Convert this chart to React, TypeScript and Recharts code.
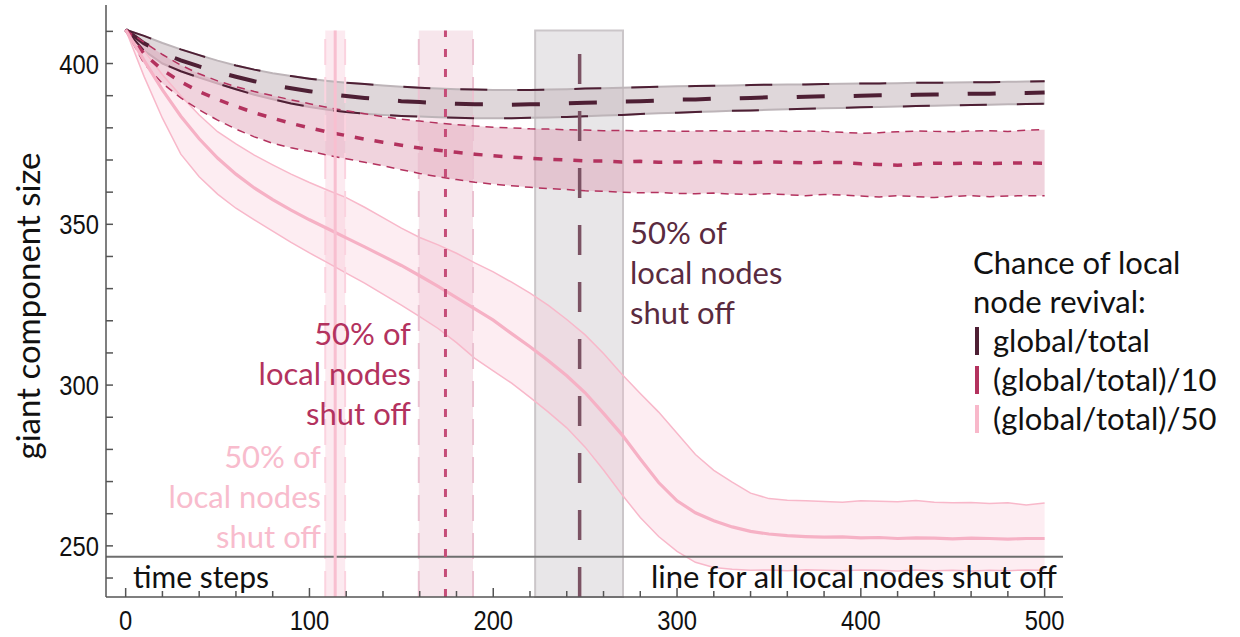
import { ComposedChart, Area, Line, XAxis, YAxis, ReferenceArea, ReferenceLine, Legend } from "recharts";

const steps = [0, 10, 20, 30, 40, 50, 60, 70, 80, 90, 100, 110, 120, 130, 140, 150, 160, 170, 180, 190, 200, 210, 220, 230, 240, 250, 260, 270, 280, 290, 300, 310, 320, 330, 340, 350, 360, 370, 380, 390, 400, 410, 420, 430, 440, 450, 460, 470, 480, 490, 500];

// revival chance = global/total
const globalMean = [410.5, 406.3, 403.2, 401.0, 399.1, 397.4, 395.9, 394.5, 393.3, 392.3, 391.4, 390.6, 389.9, 389.3, 388.8, 388.3, 388.0, 387.7, 387.5, 387.3, 387.3, 387.2, 387.3, 387.4, 387.6, 387.8, 387.9, 388.2, 388.3, 388.5, 388.8, 388.8, 389.1, 389.1, 389.3, 389.5, 389.4, 389.7, 389.8, 389.8, 390.0, 390.1, 390.1, 390.3, 390.4, 390.4, 390.6, 390.6, 390.8, 390.8, 391.0];
const globalHigh = [410.5, 408.6, 406.4, 404.4, 402.6, 400.9, 399.4, 398.1, 397.0, 396.1, 395.3, 394.6, 394.0, 393.6, 393.2, 392.8, 392.5, 392.2, 392.0, 391.9, 391.8, 391.8, 391.8, 391.9, 392.0, 392.2, 392.3, 392.5, 392.6, 392.8, 392.9, 393.0, 393.1, 393.2, 393.3, 393.4, 393.5, 393.5, 393.6, 393.7, 393.8, 393.8, 393.9, 394.0, 394.0, 394.1, 394.2, 394.2, 394.3, 394.4, 394.5];
const globalLow = [410.5, 404.0, 400.0, 397.6, 395.6, 393.8, 392.0, 390.3, 388.9, 387.6, 386.5, 385.6, 384.9, 384.4, 384.0, 383.7, 383.5, 383.3, 383.1, 383.0, 383.0, 383.0, 383.1, 383.2, 383.4, 383.6, 383.8, 384.0, 384.3, 384.5, 384.7, 384.9, 385.1, 385.3, 385.4, 385.6, 385.8, 385.9, 386.1, 386.2, 386.4, 386.5, 386.6, 386.8, 386.9, 387.0, 387.1, 387.2, 387.3, 387.4, 387.5];

// revival chance = (global/total)/10
const tenthMean = [410.5, 403.0, 398.0, 394.3, 391.3, 388.8, 386.7, 384.7, 383.0, 381.4, 380.0, 378.7, 377.6, 376.5, 375.5, 374.6, 373.7, 373.0, 372.4, 371.8, 371.3, 370.9, 370.5, 370.2, 370.0, 369.7, 369.7, 369.4, 369.6, 369.3, 369.4, 369.2, 369.5, 369.3, 369.2, 369.4, 369.3, 369.1, 369.3, 369.2, 368.8, 368.6, 368.4, 368.7, 369.0, 368.9, 369.1, 368.9, 369.0, 369.1, 369.0];
const tenthHigh = [410.5, 406.6, 402.8, 399.5, 396.8, 394.6, 392.8, 391.3, 390.0, 388.7, 387.5, 386.3, 385.3, 384.4, 383.5, 382.7, 382.1, 381.5, 381.0, 380.6, 380.2, 380.0, 379.7, 379.6, 379.4, 379.3, 379.1, 379.2, 379.0, 379.1, 378.9, 379.0, 379.1, 378.9, 379.0, 379.1, 378.9, 379.0, 378.9, 378.6, 378.3, 378.5, 378.8, 379.0, 378.9, 378.8, 379.0, 379.1, 378.9, 379.3, 379.4];
const tenthLow = [410.5, 400.0, 393.8, 389.3, 385.6, 382.4, 379.6, 377.2, 375.2, 373.8, 372.7, 371.5, 370.4, 369.3, 368.2, 367.0, 365.8, 364.8, 363.9, 363.1, 362.5, 362.0, 361.5, 361.1, 360.8, 360.4, 360.3, 360.0, 359.8, 359.9, 359.6, 359.5, 359.7, 359.4, 359.3, 359.5, 359.2, 358.9, 359.3, 359.1, 358.8, 358.5, 358.9, 358.6, 358.3, 358.7, 358.9, 358.6, 358.8, 358.9, 358.9];

// revival chance = (global/total)/50
const fiftiethMean = [410.5, 401.0, 391.8, 383.6, 376.6, 370.6, 365.6, 361.3, 357.7, 354.4, 351.4, 348.6, 345.8, 343.0, 340.1, 337.2, 334.0, 330.7, 327.2, 323.7, 320.2, 316.0, 311.9, 307.6, 302.9, 297.6, 291.2, 284.6, 277.0, 269.7, 264.0, 260.3, 257.8, 255.9, 254.5, 253.7, 253.2, 252.9, 252.7, 252.8, 252.5, 252.6, 252.3, 252.5, 252.4, 252.2, 252.4, 252.3, 252.1, 252.3, 252.3];
const fiftiethHigh = [410.5, 404.0, 396.5, 390.0, 384.0, 378.8, 375.0, 371.5, 368.5, 365.6, 363.0, 360.6, 358.3, 355.3, 352.1, 348.8, 345.9, 343.6, 341.0, 338.0, 335.2, 332.0, 328.6, 324.8, 320.4, 315.6, 309.8, 303.4, 297.4, 291.6, 285.0, 278.4, 273.5, 269.8, 266.4, 264.7, 264.2, 264.0, 263.8, 263.6, 264.0, 263.9, 263.7, 264.1, 263.6, 263.4, 263.5, 263.2, 263.4, 262.7, 263.3];
const fiftiethLow = [410.5, 396.0, 383.0, 371.8, 364.8, 359.4, 355.0, 351.4, 347.9, 344.4, 341.1, 338.0, 334.8, 331.7, 328.3, 324.9, 321.3, 317.6, 313.2, 308.3, 304.4, 300.6, 296.2, 291.6, 286.7, 280.7, 273.6, 266.0, 258.8, 252.9, 248.3, 244.9, 243.3, 242.7, 242.4, 242.5, 242.3, 242.6, 242.4, 242.3, 242.5, 242.4, 242.2, 242.5, 242.3, 242.4, 242.2, 242.4, 242.3, 242.5, 242.4];

// time step at which 50% of local nodes are shut off, with its spread
const halfOffTime = [247, 174, 114];
const halfOffFrom = [222.8, 159.5, 108.6];
const halfOffTo = [270.6, 189, 119.4];
const allOffLevel = 246.6;

const xTicks = [0, 20, 40, 60, 80, 100, 120, 140, 160, 180, 200, 220, 240, 260, 280, 300, 320, 340, 360, 380, 400, 420, 440, 460, 480, 500];
const yTicks = [240, 250, 260, 270, 280, 290, 300, 310, 320, 330, 340, 350, 360, 370, 380, 390, 400, 410];

const legendNames = ["global/total", "(global/total)/10", "(global/total)/50"];
const colors = ["#4e1f34", "#b3325e", "#f8b8ca"];

const Y_MIN = 234.1;
const Y_MAX = 418.2;
const BAND_TOP = 410.3;

const data = steps.map((t, i) => ({
  t,
  gMean: globalMean[i],
  gHigh: globalHigh[i],
  gLow: globalLow[i],
  gBand: [globalLow[i], globalHigh[i]],
  tMean: tenthMean[i],
  tHigh: tenthHigh[i],
  tLow: tenthLow[i],
  tBand: [tenthLow[i], tenthHigh[i]],
  fMean: fiftiethMean[i],
  fBand: [fiftiethLow[i], fiftiethHigh[i]],
}));

const tickFont = "'Liberation Sans', Arial, sans-serif";
const textFont = "Lato, 'Open Sans', sans-serif";

// tick numbers in the original are a narrow sans, so squeeze them a bit
const TickText = ({ x, y, anchor, value }: any) => (
  <g transform={`translate(${x},${y}) scale(0.88,1)`}>
    <text x={0} y={0} textAnchor={anchor} fontFamily={tickFont} fontSize={27} fill="#111">
      {value}
    </text>
  </g>
);

const YTick = (props: any) => {
  const { x, y, payload } = props;
  const major = payload.value % 50 === 0;
  return (
    <g>
      <line x1={x + 8} x2={x + 15} y1={y} y2={y} stroke="#555" strokeWidth={1.5} />
      {major && <TickText x={x + 1} y={y + 10} anchor="end" value={payload.value} />}
    </g>
  );
};

const XTick = (props: any) => {
  const { x, y, payload } = props;
  const major = payload.value % 100 === 0;
  const y0 = y - 10;
  return (
    <g>
      <line x1={x} x2={x} y1={y0} y2={y0 - (major ? 9 : 6)} stroke="#555" strokeWidth={1.5} />
      {major && <TickText x={x} y={y0 + 33} anchor="middle" value={payload.value} />}
    </g>
  );
};

const renderLegend = () => (
  <div style={{ fontFamily: textFont, fontSize: 31, lineHeight: "39px", color: "#111", whiteSpace: "nowrap" }}>
    <div>Chance of local</div>
    <div>node revival:</div>
    {legendNames.map((name, i) => (
      <div key={name} style={{ display: "flex", alignItems: "center" }}>
        <span style={{ display: "inline-block", width: 4, height: 28, background: colors[i], marginLeft: 2, marginRight: 14 }} />
        {name}
      </div>
    ))}
  </div>
);

const annotations = [
  { color: "#5a2b3f", x: 630, y: 244, anchor: "start" },
  { color: "#b3325e", x: 411, y: 345, anchor: "end" },
  { color: "#f8bccd", x: 321, y: 468, anchor: "end" },
];
const annotationLines = ["50% of", "local nodes", "shut off"];

export default function App() {
  return (
    <div style={{ position: "absolute", left: 0, top: 0, width: 1240, height: 637, overflow: "hidden", background: "#fff" }}>
      <ComposedChart width={1240} height={637} data={data} margin={{ top: 5, right: 177, bottom: 0, left: 0 }}>
        <XAxis
          dataKey="t"
          type="number"
          domain={[-10.7, 510]}
          allowDataOverflow
          ticks={xTicks}
          tick={<XTick />}
          tickSize={0}
          tickMargin={10}
          height={40}
          axisLine={{ stroke: "#555", strokeWidth: 1.5 }}
          tickLine={false}
          interval={0}
        />
        <YAxis
          type="number"
          domain={[Y_MIN, Y_MAX]}
          allowDataOverflow
          ticks={yTicks}
          tick={<YTick />}
          tickSize={0}
          tickMargin={8}
          width={106}
          axisLine={{ stroke: "#555", strokeWidth: 1.5 }}
          tickLine={false}
          interval={0}
        />

        <ReferenceArea x1={halfOffFrom[0]} x2={halfOffTo[0]} y1={Y_MIN} y2={BAND_TOP} fill="#d9d5d8" fillOpacity={0.6} stroke="#cbc6c9" strokeWidth={2} />
        <ReferenceArea x1={halfOffFrom[1]} x2={halfOffTo[1]} y1={Y_MIN} y2={BAND_TOP} fill="#e9b7c9" fillOpacity={0.35} stroke="none" />
        <ReferenceArea x1={halfOffFrom[2]} x2={halfOffTo[2]} y1={Y_MIN} y2={BAND_TOP} fill="#f7c3d3" fillOpacity={0.35} stroke="none" />
        {[1, 2].map((k) =>
          [halfOffFrom[k], halfOffTo[k]].map((xv) => (
            <ReferenceLine
              key={`${k}-${xv}`}
              segment={[{ x: xv, y: Y_MIN }, { x: xv, y: BAND_TOP }]}
              stroke={k === 1 ? "#ebc2d1" : "#fbd3df"}
              strokeWidth={2}
              strokeDasharray="26 12"
            />
          ))
        )}

        <Area dataKey="gBand" type="linear" fill="#c9bcc2" fillOpacity={0.6} stroke="#bdb4b8" strokeWidth={2} isAnimationActive={false} />
        <Area dataKey="tBand" type="linear" fill="#dd9db3" fillOpacity={0.45} stroke="none" isAnimationActive={false} />
        <Area dataKey="fBand" type="linear" fill="#f9c3d3" fillOpacity={0.3} stroke={colors[2]} strokeWidth={1.5} isAnimationActive={false} />

        <Line dataKey="gHigh" type="linear" stroke={colors[0]} strokeWidth={2} strokeDasharray="27 30" dot={false} isAnimationActive={false} />
        <Line dataKey="gLow" type="linear" stroke={colors[0]} strokeWidth={2} strokeDasharray="27 30" dot={false} isAnimationActive={false} />
        <Line dataKey="gMean" type="linear" stroke={colors[0]} strokeWidth={4} strokeDasharray="28 29" dot={false} isAnimationActive={false} />
        <Line dataKey="tHigh" type="linear" stroke={colors[1]} strokeWidth={1.5} strokeDasharray="8 6" dot={false} isAnimationActive={false} />
        <Line dataKey="tLow" type="linear" stroke={colors[1]} strokeWidth={1.5} strokeDasharray="8 6" dot={false} isAnimationActive={false} />
        <Line dataKey="tMean" type="linear" stroke={colors[1]} strokeWidth={3.5} strokeDasharray="9 11" dot={false} isAnimationActive={false} />
        <Line dataKey="fMean" type="linear" stroke="#f6b1c5" strokeWidth={3.2} dot={false} isAnimationActive={false} />

        <ReferenceLine y={allOffLevel} stroke="#6e6e6e" strokeWidth={2} />
        <ReferenceLine segment={[{ x: halfOffTime[0], y: Y_MIN }, { x: halfOffTime[0], y: 403.8 }]} stroke="#7b5263" strokeWidth={3.5} strokeDasharray="30 27" />
        <ReferenceLine segment={[{ x: halfOffTime[1], y: Y_MIN }, { x: halfOffTime[1], y: BAND_TOP }]} stroke="#c54d78" strokeWidth={3} strokeDasharray="8 12" />
        <ReferenceLine segment={[{ x: halfOffTime[2], y: Y_MIN }, { x: halfOffTime[2], y: BAND_TOP }]} stroke="#f8bfd0" strokeWidth={3} />

        <Legend layout="vertical" align="center" verticalAlign="middle" content={renderLegend} wrapperStyle={{ left: 973, top: 243, width: 267, height: 200 }} />
      </ComposedChart>

      <svg width={1240} height={637} style={{ position: "absolute", left: 0, top: 0, pointerEvents: "none" }}>
        <text x={40} y={306} transform="rotate(-90 40 306)" textAnchor="middle" fontFamily={textFont} fontSize={33} fill="#111">
          giant component size
        </text>
        {annotations.map((a, i) =>
          annotationLines.map((line, j) => (
            <text key={`${i}-${j}`} x={a.x} y={a.y + j * 40} textAnchor={a.anchor as any} fontFamily={textFont} fontSize={31} fill={a.color}>
              {line}
            </text>
          ))
        )}
        <text x={133} y={588} fontFamily={textFont} fontSize={30} fill="#111">time steps</text>
        <text x={1057} y={588} textAnchor="end" fontFamily={textFont} fontSize={31} fill="#111">line for all local nodes shut off</text>
      </svg>
    </div>
  );
}
